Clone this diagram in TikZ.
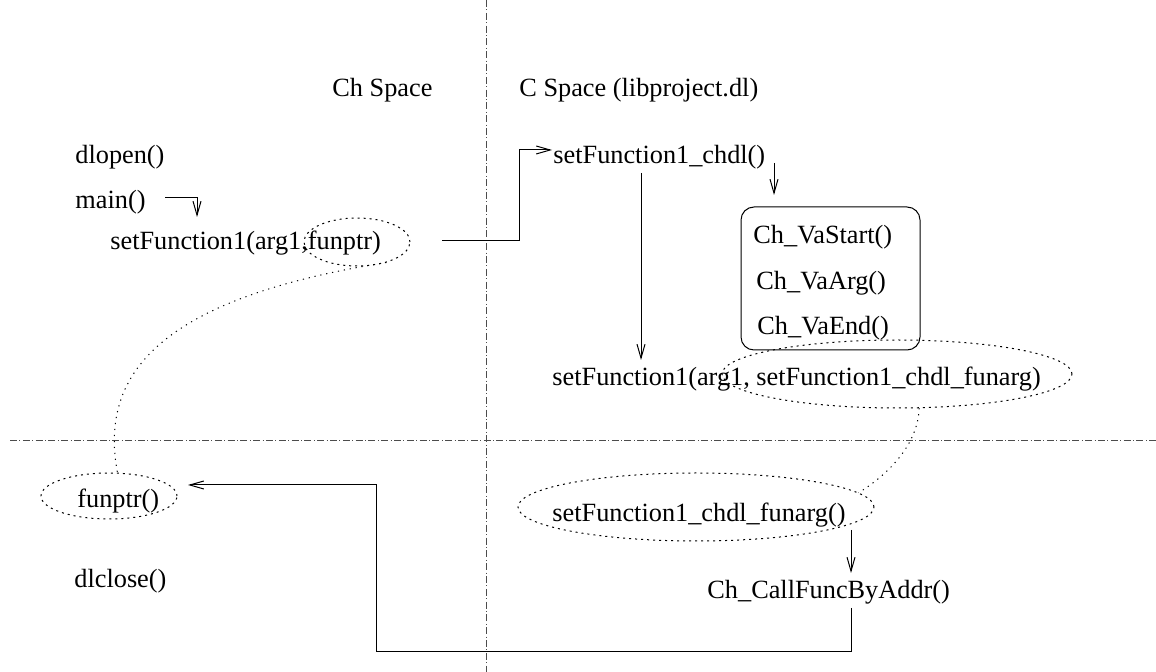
\documentclass[tikz,border=0pt]{standalone}
\usepackage{fontspec}
\setmainfont{Liberation Serif}
\usetikzlibrary{arrows.meta,shapes.geometric,calc}

\tikzset{
	fn/.style={inner sep=0pt, anchor=base west, font=\fontsize{13.15}{15}\selectfont},
	divider/.style={line width=0.5pt, black!70, dash pattern=on 3.5pt off 1.2pt on 0.5pt off 1.2pt},
	ring/.style={ellipse, draw, inner sep=0pt, line width=0.5pt, dash pattern=on 1pt off 2pt},
	link/.style={line width=0.5pt, dash pattern=on 0.6pt off 2.4pt},
	flow/.style={line width=0.5pt, -{Straight Barb[length=7pt,width=4pt]}}
}

\begin{document}
\begin{tikzpicture}[x=0.5pt, y=-0.5pt]
	\useasboundingbox (0,0) rectangle (1156,672);

	\draw[divider] (486,0) -- (486,672);
	\draw[divider] (10,441) -- (1156,441);

	\node[fn] (chsp) at (332,97) {Ch Space};
	\node[fn] (csp)  at (519,97) {C Space (libproject.dl)};

	\node[fn] (dlopen)  at (75,164) {dlopen()};
	\node[fn] (mainfn)  at (75,209) {main()};
	\node[fn] (call)    at (110,250) {setFunction1(arg1,funptr)};
	\node[fn] (funptr)  at (77,508) {funptr()};
	\node[fn] (dlclose) at (74,588) {dlclose()};

	\node[fn] (chdl)    at (553,164) {setFunction1\_chdl()};
	\node[fn] (vastart) at (753,244) {Ch\_VaStart()};
	\node[fn] (vaarg)   at (756,290) {Ch\_VaArg()};
	\node[fn] (vaend)   at (757,335) {Ch\_VaEnd()};
	\node[fn] (ccall)   at (552,386) {setFunction1(arg1, setFunction1\_chdl\_funarg)};
	\node[fn] (funarg)  at (552,522) {setFunction1\_chdl\_funarg()};
	\node[fn] (byaddr)  at (707,599) {Ch\_CallFuncByAddr()};

	\node[draw, line width=0.5pt, rounded corners=6.5pt, inner sep=0pt, minimum width=89.5pt, minimum height=71.5pt] (vabox) at (830.5,278.5) {};

	\node[ring, minimum width=53pt,  minimum height=24pt] (fpring)  at (357,242) {};
	\node[ring, minimum width=68pt,  minimum height=23pt] (ptrring) at (109,496) {};
	\node[ring, minimum width=175pt, minimum height=34pt] (argring) at (897,374) {};
	\node[ring, minimum width=178pt, minimum height=34pt] (funring) at (696,507) {};

	\coordinate (m0) at (165,198);
	\coordinate (m1) at (197,217);
	\coordinate (c0) at (442,241);
	\coordinate (c1) at (519,150);
	\coordinate (c2) at (552,150);
	\coordinate (s0) at (774,163);
	\coordinate (s1) at (774,195);
	\coordinate (d0) at (641,173);
	\coordinate (d1) at (641,360);
	\coordinate (f0) at (851,530);
	\coordinate (f1) at (851,573);
	\coordinate (r0) at (851,608);
	\coordinate (r1) at (376,652);
	\coordinate (r2) at (188,485);

	\draw[flow] (m0) -| (m1);
	\draw[flow] (c0) -| (c1) -- (c2);
	\draw[flow] (s0) -- (s1);
	\draw[flow] (d0) -- (d1);
	\draw[flow] (f0) -- (f1);
	\draw[flow] (r0) |- (r1) |- (r2);

	\draw[link] (fpring.-35) .. controls (150,300) and (100,380) .. (ptrring.70);
	\draw[link] (argring.-57) .. controls (918,440) and (895,470) .. (funring.5);
\end{tikzpicture}
\end{document}
